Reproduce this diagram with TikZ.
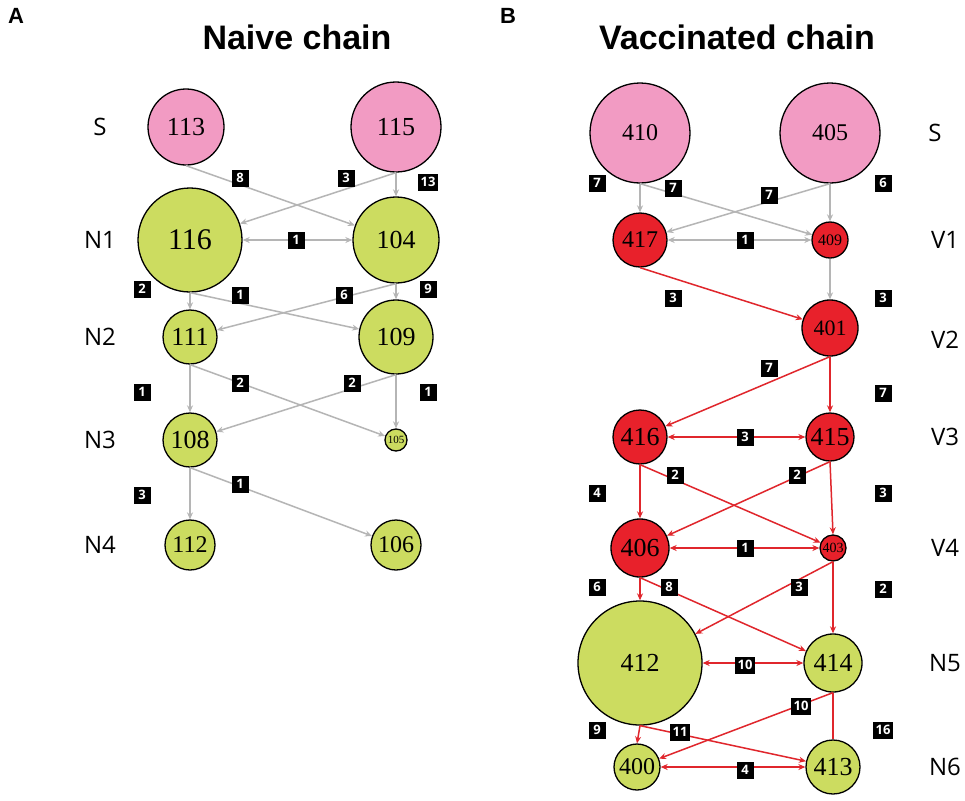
\documentclass[tikz,border=0pt]{standalone}
\usepackage{fontspec}
\setmainfont{Liberation Serif}
\newfontfamily\lab{Open Sans}
\newfontfamily\ttl{Liberation Sans}
\usetikzlibrary{arrows.meta}
\definecolor{pinkc}{HTML}{F29BC3}
\definecolor{greenc}{HTML}{CCDC60}
\definecolor{redc}{HTML}{E8212B}
\definecolor{grayc}{HTML}{B5B5B5}
\definecolor{rede}{HTML}{E0262C}
\begin{document}
\begin{tikzpicture}[x=1pt,y=-1pt,
 circ/.style={circle,draw=black,line width=1.3pt,inner sep=0pt,font=\fontsize{26}{26}\selectfont},
 pk/.style={circ,fill=pinkc},gn/.style={circ,fill=greenc},rd/.style={circ,fill=redc},
 wbox/.style={fill=black,text=white,font=\lab\bfseries\fontsize{13}{13}\selectfont,inner sep=2.5pt,minimum height=17pt,minimum width=17pt},
 rowlab/.style={font=\lab\fontsize{24}{24}\selectfont},
 ge/.style={draw=grayc,line width=1.5pt,-{Stealth[length=7pt,width=6pt]}},
 re/.style={draw=rede,line width=1.5pt,-{Stealth[length=7pt,width=6pt]}},
 gb/.style={ge,{Stealth[length=7pt,width=6pt]}-{Stealth[length=7pt,width=6pt]}},
 rb/.style={re,{Stealth[length=7pt,width=6pt]}-{Stealth[length=7pt,width=6pt]}}]
\useasboundingbox[fill=white] (0,0) rectangle (965,800);
\node[font=\ttl\bfseries\fontsize{22}{22}\selectfont] (A) at (16,16) {A};
\node[font=\ttl\bfseries\fontsize{22}{22}\selectfont] (B) at (508,16) {B};
\node[font=\ttl\bfseries\fontsize{34}{34}\selectfont] (t1) at (297,37) {Naive chain};
\node[font=\ttl\bfseries\fontsize{34}{34}\selectfont] (t2) at (737,37) {Vaccinated chain};
% left
\node[pk,minimum size=76pt] (a113) at (186,127) {113};
\node[pk,minimum size=90pt] (a115) at (396,127) {115};
\node[gn,minimum size=104pt,font=\fontsize{30}{30}\selectfont] (a116) at (190,240) {116};
\node[gn,minimum size=86pt] (a104) at (396,240) {104};
\node[gn,minimum size=54pt] (a111) at (190,337) {111};
\node[gn,minimum size=74pt] (a109) at (396,337) {109};
\node[gn,minimum size=54pt] (a108) at (190,440) {108};
\node[gn,minimum size=22pt,font=\fontsize{11}{11}\selectfont] (a105) at (396,440) {105};
\node[gn,minimum size=50pt,font=\fontsize{24}{24}\selectfont] (a112) at (190,545) {112};
\node[gn,minimum size=50pt,font=\fontsize{24}{24}\selectfont] (a106) at (396,545) {106};
\foreach \t/\y in {S/127,N1/240,N2/337,N3/440,N4/545}{\node[rowlab] (l\t) at (100,\y) {\t};}
\draw[ge] (a113.south) -- (a104);
\draw[ge] (a115.south) -- (a116);
\draw[ge] (a115.south) -- (a104.north);
\draw[gb] (a116.east) -- (a104.west);
\draw[ge] (a116.south) -- (a111.north);
\draw[ge] (a116.south) -- (a109);
\draw[ge] (a104.south) -- (a111);
\draw[ge] (a104.south) -- (a109.north);
\draw[ge] (a111.south) -- (a108.north);
\draw[ge] (a111.south) -- (a105);
\draw[ge] (a109.south) -- (a108);
\draw[ge] (a109.south) -- (a105.north);
\draw[ge] (a108.south) -- (a112.north);
\draw[ge] (a108.south) -- (a106);
\node[wbox] (b1) at (240,178) {8};
\node[wbox] (b2) at (346,178) {3};
\node[wbox] (b3) at (428,182) {13};
\node[wbox] (b4) at (296,240) {1};
\node[wbox] (b5) at (142,289) {2};
\node[wbox] (b6) at (240,295) {1};
\node[wbox] (b7) at (344,295) {6};
\node[wbox] (b8) at (428,289) {9};
\node[wbox] (b9) at (142,392) {1};
\node[wbox] (b10) at (240,383) {2};
\node[wbox] (b11) at (352,383) {2};
\node[wbox] (b12) at (428,392) {1};
\node[wbox] (b13) at (142,495) {3};
\node[wbox] (b14) at (240,484) {1};
% right
\node[pk,minimum size=100pt,font=\fontsize{24}{24}\selectfont] (r410) at (640,133) {410};
\node[pk,minimum size=100pt,font=\fontsize{24}{24}\selectfont] (r405) at (830,133) {405};
\node[rd,minimum size=54pt,font=\fontsize{24}{24}\selectfont] (r417) at (640,240) {417};
\node[rd,minimum size=36pt,font=\fontsize{16}{16}\selectfont] (r409) at (830,240) {409};
\node[rd,minimum size=56pt,font=\fontsize{22}{22}\selectfont] (r401) at (830,328) {401};
\node[rd,minimum size=54pt] (r416) at (640,437) {416};
\node[rd,minimum size=48pt] (r415) at (830,437) {415};
\node[rd,minimum size=58pt] (r406) at (640,548) {406};
\node[rd,minimum size=26pt,font=\fontsize{14}{14}\selectfont] (r403) at (833,548) {403};
\node[gn,minimum size=124pt] (r412) at (640,663) {412};
\node[gn,minimum size=58pt] (r414) at (833,663) {414};
\node[gn,minimum size=46pt,font=\fontsize{24}{24}\selectfont] (r400) at (637,767) {400};
\node[gn,minimum size=54pt] (r413) at (833,767) {413};
\node[rowlab] (rS) at (935,133) {S};
\foreach \t/\y in {V1/240,V2/340,V3/437,V4/548,N5/663,N6/767}{\node[rowlab] (r\t) at (945,\y) {\t};}
\draw[ge] (r410.south) -- (r417.north);
\draw[ge] (r410.south) -- (r409);
\draw[ge] (r405.south) -- (r417);
\draw[ge] (r405.south) -- (r409.north);
\draw[gb] (r417.east) -- (r409.west);
\draw[re] (r417.south) -- (r401);
\draw[ge] (r409.south) -- (r401.north);
\draw[re] (r401.south) -- (r416);
\draw[re] (r401.south) -- (r415.north);
\draw[rb] (r416.east) -- (r415.west);
\draw[re] (r416.south) -- (r406.north);
\draw[re] (r416.south) -- (r403);
\draw[re] (r415.south) -- (r406);
\draw[re] (r415.south) -- (r403.north);
\draw[rb] (r406.east) -- (r403.west);
\draw[re] (r406.south) -- (r412.north);
\draw[re] (r406.south) -- (r414);
\draw[re] (r403.south) -- (r412);
\draw[re] (r403.south) -- (r414.north);
\draw[rb] (r412.east) -- (r414.west);
\draw[re] (r414.south) -- (r400);
\draw[draw=rede,line width=1.5pt] (r414.south) -- (r413.north);
\draw[re] (r412.south) -- (r400.north);
\draw[re] (r412.south) -- (r413);
\draw[rb] (r400.east) -- (r413.west);
\node[wbox] (c1) at (597,183) {7};
\node[wbox] (c2) at (673,188) {7};
\node[wbox] (c3) at (769,195) {7};
\node[wbox] (c4) at (883,183) {6};
\node[wbox] (c5) at (745,240) {1};
\node[wbox] (c6) at (673,298) {3};
\node[wbox] (c7) at (883,298) {3};
\node[wbox] (c8) at (769,368) {7};
\node[wbox] (c9) at (883,393) {7};
\node[wbox] (c10) at (745,437) {3};
\node[wbox] (c11) at (597,493) {4};
\node[wbox] (c12) at (675,475) {2};
\node[wbox] (c13) at (797,475) {2};
\node[wbox] (c14) at (883,493) {3};
\node[wbox] (c15) at (745,548) {1};
\node[wbox] (c16) at (597,587) {6};
\node[wbox] (c17) at (669,587) {8};
\node[wbox] (c18) at (799,587) {3};
\node[wbox] (c19) at (883,589) {2};
\node[wbox] (c20) at (745,665) {10};
\node[wbox] (c21) at (801,706) {10};
\node[wbox] (c22) at (883,730) {16};
\node[wbox] (c23) at (597,730) {9};
\node[wbox] (c24) at (680,732) {11};
\node[wbox] (c25) at (745,770) {4};
\end{tikzpicture}
\end{document}
